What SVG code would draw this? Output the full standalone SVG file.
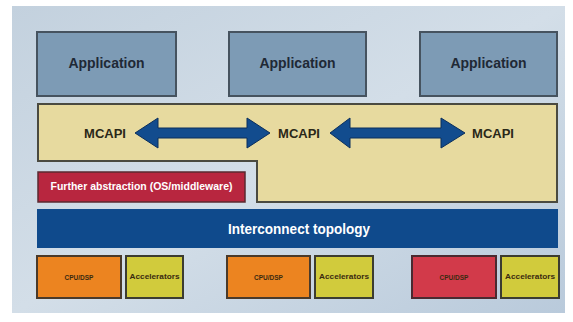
<svg xmlns="http://www.w3.org/2000/svg" width="573" height="322" viewBox="0 0 573 322">
<defs>
<linearGradient id="bg" x1="0" y1="0" x2="1" y2="1">
<stop offset="0" stop-color="#c3d1de"/>
<stop offset="0.5" stop-color="#d3dee8"/>
<stop offset="1" stop-color="#b9cadb"/>
</linearGradient>
<style>
.app rect{fill:#7d9bb5;stroke:#46535f;stroke-width:2}
.app text{font-family:"Liberation Sans",Arial,sans-serif;font-weight:bold;font-size:14px;fill:#1f2935;text-anchor:middle}
.mc{font-family:"Liberation Sans",Arial,sans-serif;font-weight:bold;font-size:13px;fill:#2a2818;text-anchor:middle}
.arrow{fill:#124c8e;stroke:#0b2f5c;stroke-width:1}
.cpu rect{fill:#ec8420;stroke:#4a3a2a;stroke-width:2}
.cpu text,.acc text{font-family:"Liberation Sans",Arial,sans-serif;font-weight:bold;font-size:6.5px;fill:#3a2a10;text-anchor:middle}
.acc rect{fill:#d1cb3c;stroke:#3c3c30;stroke-width:2}
</style>
</defs>
<rect x="0" y="0" width="573" height="322" fill="#ffffff"/>
<rect x="12" y="6" width="553" height="307" fill="url(#bg)"/>

<g id="app1" class="app"><rect x="37" y="32" width="139" height="64"/><text x="106.5" y="68">Application</text></g>
<g id="app2" class="app"><rect x="229" y="32" width="137" height="64"/><text x="297.5" y="68">Application</text></g>
<g id="app3" class="app"><rect x="420" y="32" width="137" height="64"/><text x="488.5" y="68">Application</text></g>

<g id="mcapi-layer">
<polygon points="38,104 557,104 557,202 257,202 257,161 38,161" fill="#e7da9f" stroke="#4a4a40" stroke-width="2"/>
<text class="mc" x="105" y="138">MCAPI</text>
<text class="mc" x="299" y="138">MCAPI</text>
<text class="mc" x="493" y="138">MCAPI</text>
</g>

<g id="connectors">
<polygon class="arrow" points="135,133 158,118 158,128 247,128 247,118 270,133 247,148 247,138 158,138 158,148"/>
<polygon class="arrow" points="330,133 350,118 350,128 441,128 441,118 465,133 441,148 441,138 350,138 350,148"/>
</g>

<g id="further">
<rect x="38" y="172" width="207" height="30" fill="#b8263f" stroke="#5a2a30" stroke-width="1.5"/>
<text x="141.5" y="190" font-family="'Liberation Sans',Arial,sans-serif" font-weight="bold" font-size="10px" fill="#ffffff" text-anchor="middle" textLength="182" lengthAdjust="spacingAndGlyphs">Further abstraction (OS/middleware)</text>
</g>

<g id="interconnect">
<rect x="37" y="209" width="521" height="39" fill="#0f4a8c"/>
<text x="299" y="234" font-family="'Liberation Sans',Arial,sans-serif" font-weight="bold" font-size="14px" fill="#ffffff" text-anchor="middle" textLength="142" lengthAdjust="spacingAndGlyphs">Interconnect topology</text>
</g>

<g id="cpu1" class="cpu"><rect x="37" y="256" width="84" height="42"/><text x="79" y="279.5">CPU/DSP</text></g>
<g id="acc1" class="acc"><rect x="126" y="256" width="57" height="42"/><text x="154.5" y="279" textLength="50" lengthAdjust="spacingAndGlyphs">Accelerators</text></g>
<g id="cpu2" class="cpu"><rect x="227" y="256" width="83" height="42"/><text x="268.5" y="279.5">CPU/DSP</text></g>
<g id="acc2" class="acc"><rect x="315" y="256" width="58" height="42"/><text x="344" y="279" textLength="50" lengthAdjust="spacingAndGlyphs">Accelerators</text></g>
<g id="cpu3" class="cpu"><rect x="412" y="256" width="84" height="42" style="fill:#d23a4a;stroke:#4a2a30"/><text x="454" y="279.5">CPU/DSP</text></g>
<g id="acc3" class="acc"><rect x="501" y="256" width="58" height="42"/><text x="530" y="279" textLength="50" lengthAdjust="spacingAndGlyphs">Accelerators</text></g>
</svg>
